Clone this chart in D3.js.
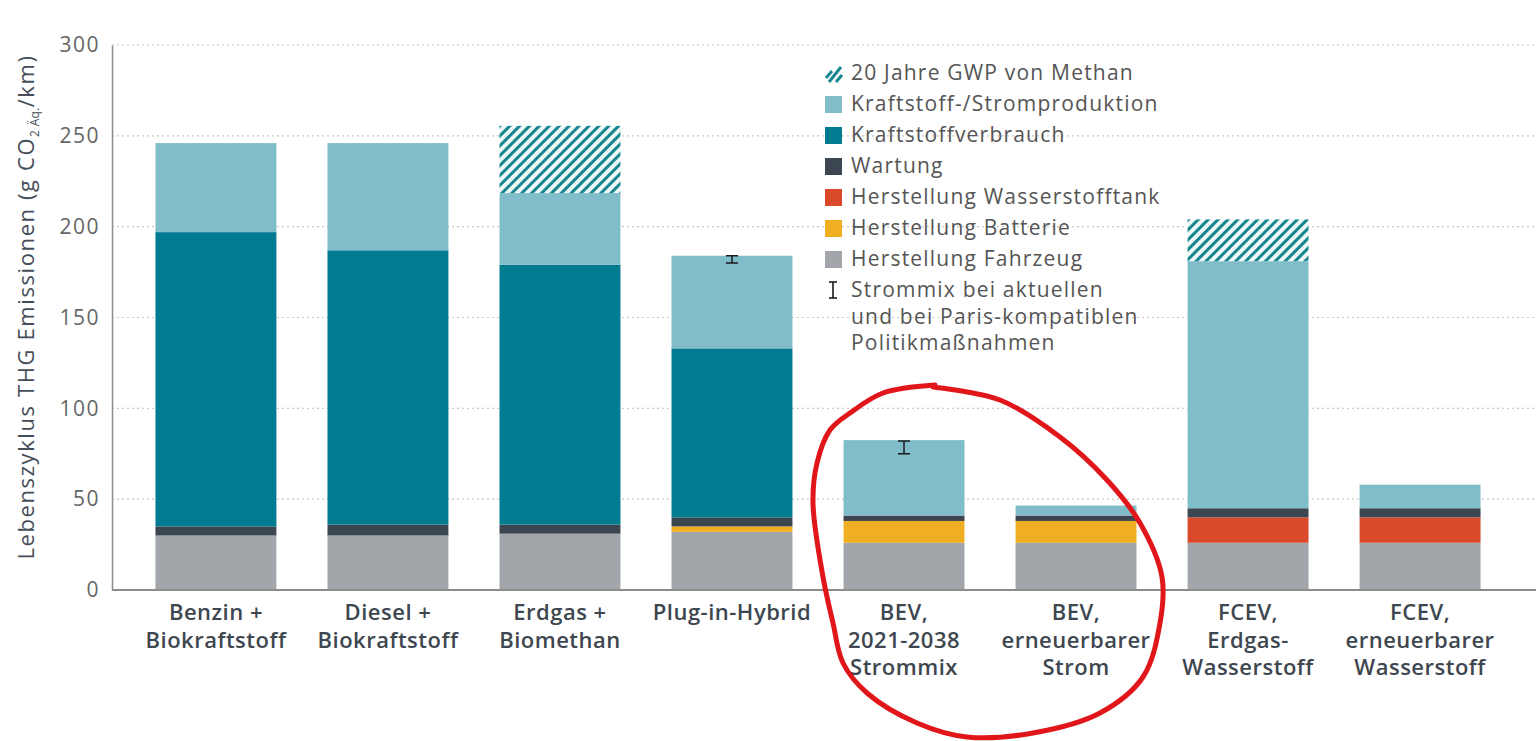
<!DOCTYPE html>
<html>
<head>
<meta charset="utf-8">
<script src="https://cdn.jsdelivr.net/npm/d3@7"></script>
<style>
  html, body { margin: 0; padding: 0; background: #fff; }
  svg { display: block; }
</style>
</head>
<body>
<svg id="chart" width="1536" height="741"></svg>
<script>
// ---------- DATA ----------
const categories = [
  ["Benzin +", "Biokraftstoff"],
  ["Diesel +", "Biokraftstoff"],
  ["Erdgas +", "Biomethan"],
  ["Plug-in-Hybrid"],
  ["BEV,", "2021-2038", "Strommix"],
  ["BEV,", "erneuerbarer", "Strom"],
  ["FCEV,", "Erdgas-", "Wasserstoff"],
  ["FCEV,", "erneuerbarer", "Wasserstoff"]
];
const seriesNames = [
  "Herstellung Fahrzeug",
  "Herstellung Batterie",
  "Herstellung Wasserstofftank",
  "Wartung",
  "Kraftstoffverbrauch",
  "Kraftstoff-/Stromproduktion",
  "20 Jahre GWP von Methan"
];
const herstellungFahrzeug      = [30, 30, 31, 32, 26, 26, 26, 26];
const herstellungBatterie      = [0, 0, 0, 3, 12, 12, 0, 0];
const herstellungWasserstoff   = [0, 0, 0, 0, 0, 0, 14, 14];
const wartung                  = [5, 6, 5, 5, 3, 3, 5, 5];
const kraftstoffverbrauch      = [162, 151, 143, 93, 0, 0, 0, 0];
const kraftstoffStromprod      = [49, 59, 39.5, 51, 41.5, 5.5, 136, 13];
const gwpMethan                = [0, 0, 37, 0, 0, 0, 23, 0];
const errorLow                 = [null, null, null, 180, 75, null, null, null];
const errorHigh                = [null, null, null, 184, 82, null, null, null];
const yTicks = [0, 50, 100, 150, 200, 250, 300];
const legendLabels = [
  "20 Jahre GWP von Methan",
  "Kraftstoff-/Stromproduktion",
  "Kraftstoffverbrauch",
  "Wartung",
  "Herstellung Wasserstofftank",
  "Herstellung Batterie",
  "Herstellung Fahrzeug"
];
const errorLegend = ["Strommix bei aktuellen", "und bei Paris-kompatiblen", "Politikmaßnahmen"];

// ---------- BUILD TABLE ----------
const seriesValues = [herstellungFahrzeug, herstellungBatterie, herstellungWasserstoff,
  wartung, kraftstoffverbrauch, kraftstoffStromprod, gwpMethan];
const table = categories.map((c, i) => {
  const row = { idx: i };
  seriesNames.forEach((s, j) => row[s] = seriesValues[j][i]);
  return row;
});
const colors = {
  "Herstellung Fahrzeug": "#a2a5a9",
  "Herstellung Batterie": "#f0ae22",
  "Herstellung Wasserstofftank": "#d9492a",
  "Wartung": "#3c4651",
  "Kraftstoffverbrauch": "#007b90",
  "Kraftstoff-/Stromproduktion": "#81bcc9",
  "20 Jahre GWP von Methan": "url(#hatch)"
};

// ---------- CHART ----------
const svg = d3.select("#chart");
const font = "'Open Sans', 'DejaVu Sans', sans-serif";

const defs = svg.append("defs");
const pat = defs.append("pattern")
  .attr("id", "hatch").attr("patternUnits", "userSpaceOnUse")
  .attr("width", 7).attr("height", 7)
  .attr("patternTransform", "rotate(45)");
pat.append("rect").attr("width", 7).attr("height", 7).attr("fill", "#eef8f9");
pat.append("rect").attr("x", 0).attr("width", 3).attr("height", 7).attr("fill", "#17868f");

const x = d3.scaleBand().domain(d3.range(categories.length)).range([130, 1506]).paddingInner(0.297).paddingOuter(0.148);
const y = d3.scaleLinear().domain([0, 300]).range([590, 45]);

// grid
svg.append("g").selectAll("line").data(yTicks.filter(d => d > 0)).join("line")
  .attr("x1", 112).attr("x2", 1536)
  .attr("y1", d => y(d)).attr("y2", d => y(d))
  .attr("stroke", "#c8c8c8").attr("stroke-width", 1.2).attr("stroke-dasharray", "2,3");

// y axis
const yAxis = d3.axisLeft(y).tickValues(yTicks).tickSize(0).tickPadding(12);
const yg = svg.append("g").attr("transform", "translate(112,0)").call(yAxis);
yg.select(".domain").attr("stroke", "#8c8c8c").attr("stroke-width", 1.5);
yg.selectAll("text").attr("font-family", font).attr("font-size", 21).attr("letter-spacing", 1.5)
  .attr("fill", "#666").attr("font-weight", 400);

// stacked bars
const stack = d3.stack().keys(seriesNames)(table);
svg.append("g").selectAll("g").data(stack).join("g")
  .attr("fill", d => colors[d.key])
  .selectAll("rect").data(d => d.filter(p => p[1] - p[0] > 0)).join("rect")
  .attr("x", d => x(d.data.idx))
  .attr("width", x.bandwidth())
  .attr("y", d => y(d[1]))
  .attr("height", d => y(d[0]) - y(d[1]));

// x axis
const xAxis = d3.axisBottom(x).tickSize(0).tickFormat("");
const xg = svg.append("g").attr("transform", "translate(0,590)").call(xAxis);
xg.select(".domain").remove();
svg.append("line").attr("x1", 112).attr("x2", 1536).attr("y1", 590).attr("y2", 590)
  .attr("stroke", "#8c8c8c").attr("stroke-width", 2);

// x labels
const xl = svg.append("g").selectAll("text").data(categories).join("text")
  .attr("x", (d, i) => x(i) + x.bandwidth() / 2)
  .attr("y", 620)
  .attr("text-anchor", "middle")
  .attr("font-family", font).attr("font-size", 22).attr("letter-spacing", 0.5)
  .attr("font-weight", 600).attr("fill", "#3e4750");
xl.selectAll("tspan").data(d => d).join("tspan")
  .attr("x", function () { return this.parentNode.getAttribute("x"); })
  .attr("dy", (d, i) => i === 0 ? 0 : 27.5)
  .text(d => d);

// error bars
const eb = svg.append("g").attr("stroke", "#1a1a1a").attr("stroke-width", 1.5);
categories.forEach((c, i) => {
  if (errorLow[i] == null) return;
  const cx = x(i) + x.bandwidth() / 2;
  eb.append("line").attr("x1", cx).attr("x2", cx).attr("y1", y(errorLow[i])).attr("y2", y(errorHigh[i]));
  [errorLow[i], errorHigh[i]].forEach(v => eb.append("line")
    .attr("x1", cx - 6).attr("x2", cx + 6).attr("y1", y(v)).attr("y2", y(v)));
});

// y title
svg.append("text")
  .attr("transform", "translate(34,307) rotate(-90)")
  .attr("text-anchor", "middle")
  .attr("font-family", font).attr("font-size", 22).attr("font-weight", 500)
  .attr("letter-spacing", 1.6).attr("fill", "#454d57")
  .call(t => {
    t.append("tspan").text("Lebenszyklus THG Emissionen (g CO");
    t.append("tspan").attr("font-size", 12).attr("letter-spacing", 0.3).attr("dy", 5).text("2 Äq.");
    t.append("tspan").attr("dy", -5).text("/km)");
  });

// legend
const lg = svg.append("g").attr("font-family", font).attr("font-size", 21)
  .attr("letter-spacing", 1.2).attr("fill", "#555");
legendLabels.forEach((lab, i) => {
  const cy = 73 + i * 31;
  const key = lab;
  if (i === 0) {
    const ic = lg.append("g").attr("stroke", "#17868f").attr("stroke-width", 3);
    ic.append("line").attr("x1", 826).attr("y1", cy + 5).attr("x2", 832).attr("y2", cy - 2);
    ic.append("line").attr("x1", 829).attr("y1", cy + 9).attr("x2", 841).attr("y2", cy - 6);
    ic.append("line").attr("x1", 836).attr("y1", cy + 9).attr("x2", 842).attr("y2", cy + 2);
  } else {
    lg.append("rect").attr("x", 825).attr("y", cy - 8).attr("width", 17).attr("height", 17)
      .attr("fill", colors[key]);
  }
  lg.append("text").attr("x", 851).attr("y", cy + 7).text(lab);
});
// error legend
{
  const cy = 290;
  const g = lg.append("g").attr("stroke", "#1a1a1a").attr("stroke-width", 1.6);
  g.append("line").attr("x1", 833).attr("x2", 833).attr("y1", cy - 8).attr("y2", cy + 8);
  g.append("line").attr("x1", 829).attr("x2", 837).attr("y1", cy - 8).attr("y2", cy - 8);
  g.append("line").attr("x1", 829).attr("x2", 837).attr("y1", cy + 8).attr("y2", cy + 8);
  errorLegend.forEach((l, i) => lg.append("text").attr("x", 851).attr("y", cy + 7 + i * 26.5).text(l));
}

// red hand-drawn annotation
const pts = [[933,387],[1000,400],[1060,437],[1107,480],[1140,523],[1162,577],[1160,623],[1143,677],[1100,713],[1033,733],[967,737],[917,723],[867,693],[843,663],[833,623],[823,577],[813,503],[817,463],[830,430],[850,413],[883,393],[935,385]];
svg.append("path")
  .attr("d", d3.line().curve(d3.curveCatmullRom)(pts))
  .attr("fill", "none").attr("stroke", "#e0161b").attr("stroke-width", 5).attr("stroke-linecap", "round");
</script>
</body>
</html>
